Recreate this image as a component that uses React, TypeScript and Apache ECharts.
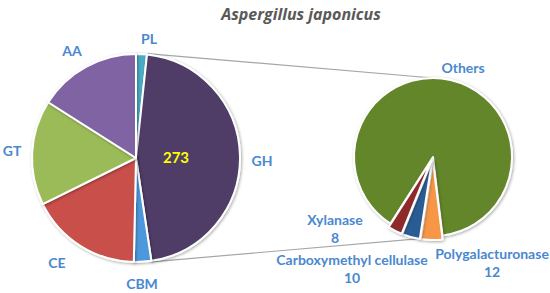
import React, { useEffect, useRef } from "react";
import * as echarts from "echarts";

// ---- data ----
const mainCategories = ["PL", "GH", "CBM", "CE", "GT", "AA"];
const mainValues = [10, 273, 16, 103, 97, 95];
const subCategories = ["Polygalacturonase", "Carboxymethyl cellulase", "Xylanase", "Others"];
const subValues = [12, 10, 8, 243];
const titleText = "Aspergillus japonicus";

// ---- styling / layout ----
const mainColors = ["#4bacc6", "#4f3c68", "#4d98dc", "#c9504c", "#9bbb59", "#8064a2"];
const subColors = ["#f79646", "#2b5b94", "#8e2b2b", "#64862a"];
const LEFT_C = [136, 158];
const LEFT_R = 104;
const RIGHT_C = [433, 157];
const RIGHT_R = 79;
const LABEL_COLOR = "#4a88cf";
const FONT = "Lato, 'Open Sans', sans-serif";
// label centre offsets from each pie centre
const leftLabelOffsets = [[13, -120], [126, 2], [6, 125], [-79, 104], [-124, -8], [-64, -108]];
const rightLabelOffsets = [[59, 105], [-81, 111], [-98, 71], [30, -90]];

function polar(c: number[], r: number, deg: number) {
  const a = (deg * Math.PI) / 180;
  return [c[0] + r * Math.sin(a), c[1] - r * Math.cos(a)];
}

export default function App() {
  const ref = useRef<HTMLDivElement>(null);
  useEffect(() => {
    if (!ref.current) return;
    const chart = echarts.init(ref.current, undefined, { renderer: "svg" });
    const total = mainValues.reduce((a, b) => a + b, 0);
    const ghStart = (mainValues[0] / total) * 360;
    const ghEnd = ((mainValues[0] + mainValues[1]) / total) * 360;
    const t1 = polar(LEFT_C, LEFT_R + 1, ghStart);
    const t2 = polar(RIGHT_C, RIGHT_R, 0);
    const b1 = polar(LEFT_C, LEFT_R + 1, ghEnd);
    const b2 = polar(RIGHT_C, RIGHT_R + 3, 187);

    const labelStyle = {
      color: LABEL_COLOR,
      fontFamily: FONT,
      fontWeight: "bold" as const,
      fontSize: 14,
      lineHeight: 18,
    };
    const shadow = { shadowColor: "rgba(0,0,0,0.35)", shadowBlur: 3, shadowOffsetX: 1, shadowOffsetY: 1 };

    chart.setOption({
      animation: false,
      title: {
        text: titleText,
        left: 296,
        top: 1,
        textAlign: "center",
        textStyle: { color: "#595959", fontFamily: "'Open Sans', sans-serif", fontWeight: "bold", fontStyle: "italic", fontSize: 16 },
      },
      graphic: [
        { type: "line", shape: { x1: t1[0], y1: t1[1], x2: t2[0], y2: t2[1] }, style: { stroke: "#a6a6a6", lineWidth: 1.2 }, z: 0 },
        { type: "line", shape: { x1: b1[0], y1: b1[1], x2: b2[0], y2: b2[1] }, style: { stroke: "#a6a6a6", lineWidth: 1.2 }, z: 0 },
      ],
      series: [
        {
          type: "pie",
          center: LEFT_C,
          radius: LEFT_R,
          startAngle: 90,
          clockwise: true,
          avoidLabelOverlap: false,
          itemStyle: { borderColor: "#ffffff", borderWidth: 2, ...shadow },
          label: { show: true, position: "outside", formatter: "{b}", ...labelStyle },
          labelLine: { show: false },
          labelLayout: (p: any) => {
            const o = leftLabelOffsets[p.dataIndex];
            return { x: LEFT_C[0] + o[0], y: LEFT_C[1] + o[1], align: "center", verticalAlign: "middle" };
          },
          data: mainCategories.map((n, i) => ({ name: n, value: mainValues[i], itemStyle: { color: mainColors[i] } })),
        },
        {
          type: "pie",
          center: LEFT_C,
          radius: 74,
          startAngle: 90,
          silent: true,
          itemStyle: { color: "transparent" },
          label: { show: false },
          labelLine: { show: false },
          data: mainCategories.map((n, i) => ({
            name: n,
            value: mainValues[i],
            label:
              n === "GH"
                ? { show: true, position: "inside", formatter: "{c}", color: "#ffff00", fontFamily: FONT, fontWeight: "bold", fontSize: 15 }
                : { show: false },
          })),
        },
        {
          type: "pie",
          center: RIGHT_C,
          radius: RIGHT_R,
          startAngle: 277,
          clockwise: true,
          selectedMode: "multiple",
          selectedOffset: 4,
          itemStyle: { borderColor: "#ffffff", borderWidth: 2, ...shadow },
          label: { show: false },
          labelLine: { show: false },
          data: subCategories.map((n, i) => ({
            name: n,
            value: subValues[i],
            selected: n !== "Others",
            itemStyle: { color: subColors[i] },
          })),
        },
        {
          type: "pie",
          center: RIGHT_C,
          radius: RIGHT_R,
          startAngle: 277,
          clockwise: true,
          silent: true,
          avoidLabelOverlap: false,
          itemStyle: { color: "transparent" },
          label: {
            show: true,
            position: "outside",
            formatter: (p: any) => (p.name === "Others" ? p.name : `${p.name}\n${p.value}`),
            ...labelStyle,
          },
          labelLine: { show: false },
          labelLayout: (p: any) => {
            const o = rightLabelOffsets[p.dataIndex];
            return { x: RIGHT_C[0] + o[0], y: RIGHT_C[1] + o[1], align: "center", verticalAlign: "middle" };
          },
          data: subCategories.map((n, i) => ({ name: n, value: subValues[i] })),
        },
      ],
    });
    return () => chart.dispose();
  }, []);
  return <div ref={ref} style={{ position: "fixed", left: 0, top: 0, width: 550, height: 293, background: "#fff" }} />;
}
